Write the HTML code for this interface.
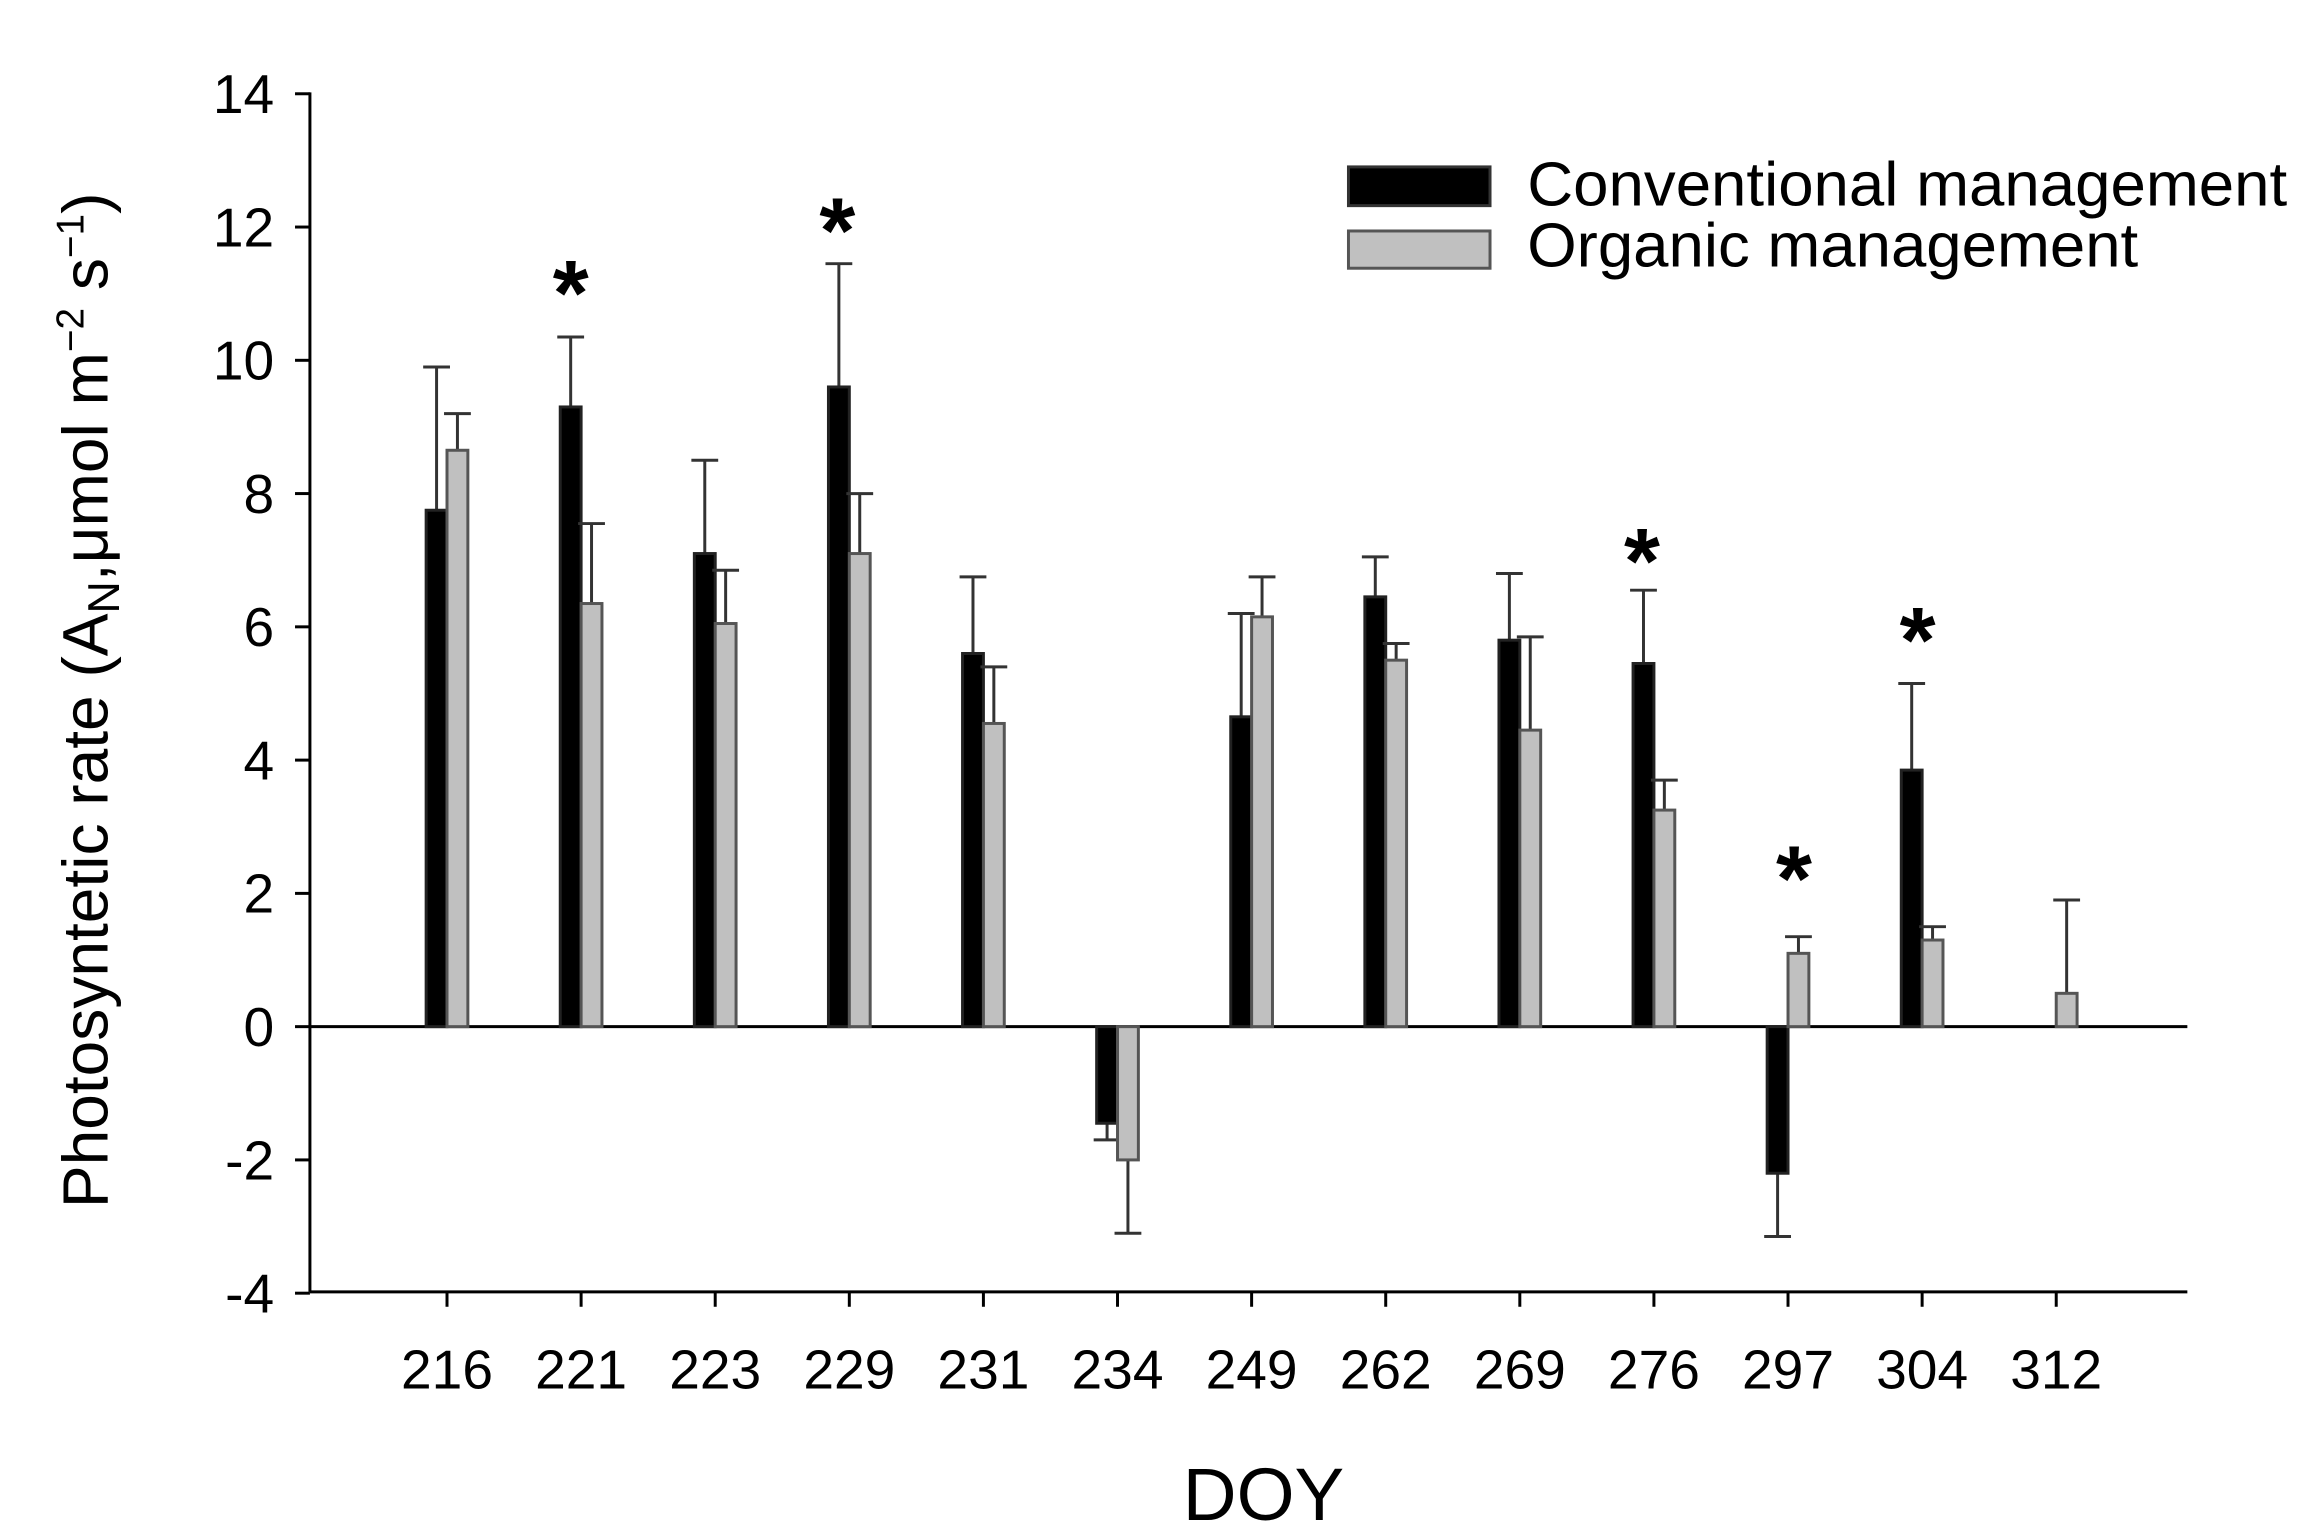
<!DOCTYPE html>
<html><head><meta charset="utf-8"><style>html,body{margin:0;padding:0;background:#fff}svg{display:block}</style></head>
<body>
<svg width="2314" height="1537" viewBox="0 0 1553 1031.5" xmlns="http://www.w3.org/2000/svg" font-family="Liberation Sans, Arial, sans-serif">
<rect width="1553" height="1032" fill="#fff"/>
<g stroke="#000" stroke-width="2" fill="none">
<line x1="208" y1="62" x2="208" y2="867"/>
<line x1="208" y1="867" x2="1468" y2="867"/>
<line x1="208" y1="689" x2="1468" y2="689"/>
</g>
<g id="yt" stroke="#000" stroke-width="2"></g>
<g id="bars"></g>
<g font-size="37" text-anchor="end" id="yl"></g>
<g font-size="37" text-anchor="middle" id="xl"></g>
<g font-size="62" font-weight="bold" text-anchor="middle">
<text x="383" y="218">*</text><text x="562" y="176">*</text><text x="1102" y="398">*</text><text x="1204" y="611">*</text><text x="1287" y="451">*</text>
</g>
<rect x="905" y="112" width="95" height="26" fill="#000" stroke="#333" stroke-width="2"/>
<rect x="905" y="155" width="95" height="25" fill="#c0c0c0" stroke="#555" stroke-width="2"/>
<text x="1025" y="138" font-size="42" textLength="510" lengthAdjust="spacingAndGlyphs">Conventional management</text>
<text x="1025" y="179" font-size="42" textLength="410" lengthAdjust="spacingAndGlyphs">Organic management</text>
<text x="848" y="1020" font-size="50" text-anchor="middle">DOY</text>
<text transform="translate(72,470) rotate(-90)" font-size="43" text-anchor="middle">Photosyntetic rate (A<tspan font-size="30" dy="8">N</tspan><tspan dy="-8">,μmol m</tspan><tspan font-size="26" dy="-16">−2</tspan><tspan dy="16"> s</tspan><tspan font-size="26" dy="-16">−1</tspan><tspan dy="16">)</tspan></text>
<script>
var ns="http://www.w3.org/2000/svg";
function Y(v){return 689-v*44.72;}
function el(p,t,a,txt){var e=document.createElementNS(ns,t);for(var k in a)e.setAttribute(k,a[k]);if(txt!==undefined)e.textContent=txt;document.getElementById(p).appendChild(e);}
for(var v=-4;v<=14;v+=2){el("yt","line",{x1:198,x2:208,y1:Y(v),y2:Y(v)});el("yl","text",{x:184,y:Y(v)+13},String(v));}
var d=[[216,7.75,9.9,8.65,9.2],[221,9.3,10.35,6.35,7.55],[223,7.1,8.5,6.05,6.85],[229,9.6,11.45,7.1,8.0],[231,5.6,6.75,4.55,5.4],[234,-1.45,-1.7,-2.0,-3.1],[249,4.65,6.2,6.15,6.75],[262,6.45,7.05,5.5,5.75],[269,5.8,6.8,4.45,5.85],[276,5.45,6.55,3.25,3.7],[297,-2.2,-3.15,1.1,1.35],[304,3.85,5.15,1.3,1.5],[312,null,null,0.5,1.9]];
d.forEach(function(r,i){var c=300+90*i;
el("yt","line",{x1:c,x2:c,y1:867,y2:877});
el("xl","text",{x:c,y:932},String(r[0]));
function bar(x,v,e,fill,st){
 el("bars","line",{x1:x+7,x2:x+7,y1:Y(v),y2:Y(e),stroke:"#333","stroke-width":2});
 el("bars","line",{x1:x-2,x2:x+16,y1:Y(e),y2:Y(e),stroke:"#333","stroke-width":2});
 var y0=Math.min(Y(v),689),h=Math.abs(Y(v)-689);
 el("bars","rect",{x:x,y:y0,width:14,height:h,fill:fill,stroke:st,"stroke-width":2});
}
if(r[1]!==null)bar(c-14,r[1],r[2],"#000","#222");
bar(c,r[3],r[4],"#c0c0c0","#555");
});
</script>
</svg>
</body></html>
